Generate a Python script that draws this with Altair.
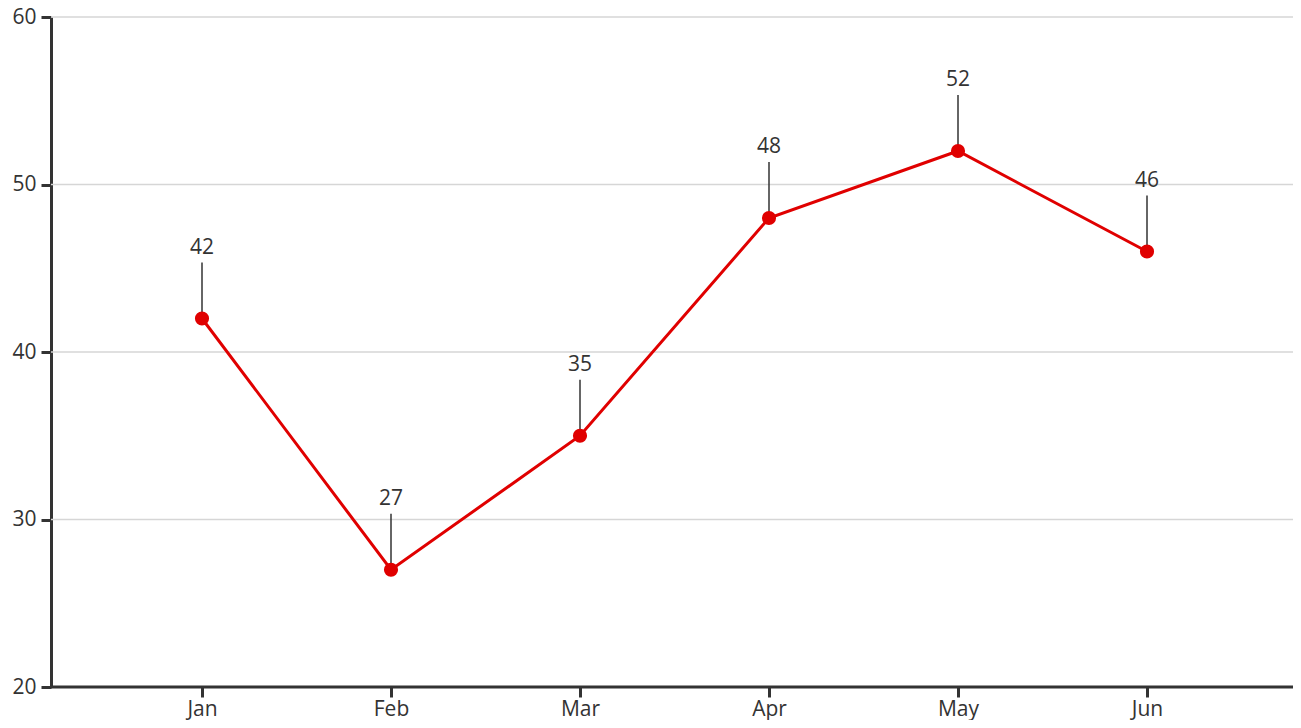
import altair as alt
import pandas as pd

months = ["Jan", "Feb", "Mar", "Apr", "May", "Jun"]
values = [42, 27, 35, 48, 52, 46]
grid_values = [30, 40, 50, 60]
y_ticks = [20, 30, 40, 50, 60]

df = pd.DataFrame({"month": months, "value": values})

FONT = "Open Sans"
RED = "#e00000"
W, H = 1242, 670

yscale = alt.Scale(domain=[20, 60], nice=False, zero=False)

x = alt.X("month:N", sort=months, title=None,
          scale=alt.Scale(type="point", range=[151, 1096], padding=0),
          axis=alt.Axis(labelAngle=0, labelFontSize=21, labelFont=FONT, labelColor="#333",
                        tickSize=10, tickWidth=3, tickColor="#333", domain=False,
                        labelPadding=1, grid=False))
y = alt.Y("value:Q", title=None, scale=yscale,
          axis=alt.Axis(values=y_ticks, labelFontSize=21, labelFont=FONT,
                        labelColor="#333", tickSize=10, tickWidth=3, tickColor="#333",
                        domainWidth=3, domainColor="#333", labelPadding=5, grid=False))

base = alt.Chart(df)

grid = alt.Chart(pd.DataFrame({"g": grid_values})).mark_rule(color="#d6d6d6", strokeWidth=1.5).encode(
    y=alt.Y("g:Q", scale=yscale), x=alt.value(0), x2=alt.value(W))
baseline = alt.Chart(pd.DataFrame({"v": [20]})).mark_rule(color="#333", strokeWidth=3).encode(
    y=alt.Y("v:Q", scale=yscale), x=alt.value(0), x2=alt.value(W))
line = base.mark_line(color=RED, strokeWidth=3).encode(x=x, y=y)
pts = base.mark_circle(color=RED, size=200, opacity=1).encode(x=x, y=y)
rules = base.mark_rule(color="#333", strokeWidth=1.5, y2Offset=-56).encode(
    x=x, y=y, y2=alt.Y2("value:Q"))
labels = base.mark_text(font=FONT, fontSize=21, color="#333", baseline="alphabetic", dy=-65).encode(
    x=x, y=y, text="value:Q")

chart = alt.layer(grid, line, rules, pts, labels, baseline).properties(
    width=W, height=H,
    autosize=alt.AutoSizeParams(type="none"),
    padding={"left": 43, "top": 9, "right": 0, "bottom": 33},
).configure_view(stroke=None)

chart.save("out.html", embed_options={"renderer": "svg", "actions": False})
